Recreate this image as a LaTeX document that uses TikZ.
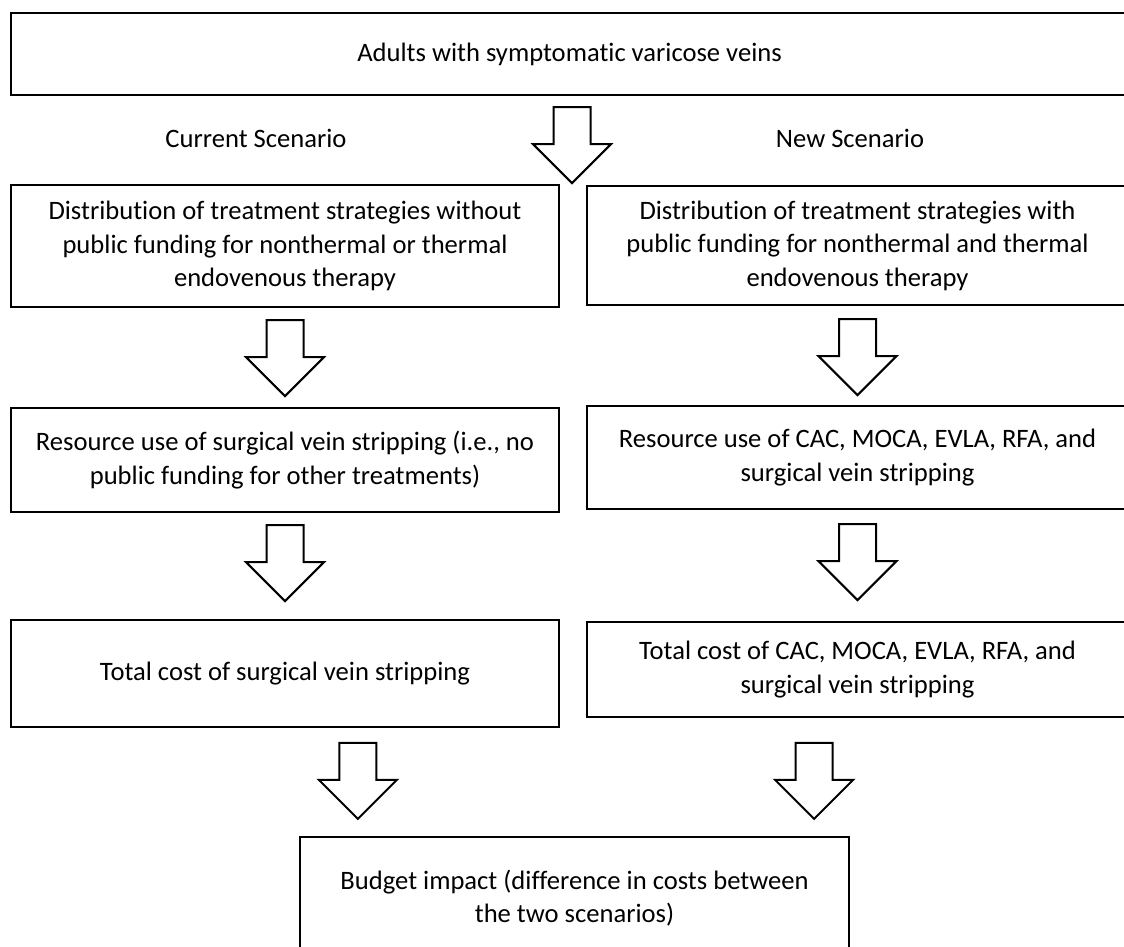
\documentclass[tikz,border=0pt]{standalone}
\usepackage{fontspec}
\setmainfont{Carlito}[Ligatures=NoCommon]
\usetikzlibrary{calc}
\begin{document}
\begin{tikzpicture}[x=1pt,y=-1pt,
  box/.style={draw=black,line width=2.2pt,align=center,inner sep=0pt,
    font=\fontsize{26.6}{33.5}\selectfont,text=black},
  lbl/.style={inner sep=0pt,font=\fontsize{26.6}{33.5}\selectfont,text=black},
  arrowline/.style={draw=black,line width=2pt,fill=white,line join=miter},
  barrow/.pic={\path[arrowline] (-18.5,0) -- (18.5,0) -- (18.5,37) -- (39,37) -- (0,76) -- (-39,37) -- (-18.5,37) -- cycle;}
]
\useasboundingbox (0,0) rectangle (1124,947);
\clip (0,0) rectangle (1124,947);
\fill[white] (0,0) rectangle (1124,947);

\node[box,minimum width=1117,minimum height=82] (top) at (569.5,54) {Adults with symptomatic varicose veins};

\node[lbl] (cur) at (256,138) {Current Scenario};
\node[lbl] (new) at (850,138) {New Scenario};

\node[box,minimum width=548,minimum height=122] (L1) at (285,246)
  {Distribution of treatment strategies without\\public funding for nonthermal or thermal\\endovenous therapy};
\node[box,minimum width=541,minimum height=119] (R1) at (857.5,245.5)
  {Distribution of treatment strategies with\\public funding for nonthermal and thermal\\endovenous therapy};

\node[box,minimum width=548,minimum height=104] (L2) at (285,460)
  {Resource use of surgical vein stripping (i.e., no\\public funding for other treatments)};
\node[box,minimum width=541,minimum height=103] (R2) at (857.5,457.5)
  {Resource use of CAC, MOCA, EVLA, RFA, and\\surgical vein stripping};

\node[box,minimum width=548,minimum height=107] (L3) at (285,673.5)
  {Total cost of surgical vein stripping};
\node[box,minimum width=541,minimum height=95] (R3) at (857.5,669.5)
  {Total cost of CAC, MOCA, EVLA, RFA, and\\surgical vein stripping};

\node[box,minimum width=549,minimum height=122] (B) at (574.5,898)
  {Budget impact (difference in costs between\\the two scenarios)};

% block arrows
\pic at ($(top.south)+(2.5,11)$) {barrow};
\pic at ($(L1.south)+(0,12)$) {barrow};
\pic at ($(R1.south)+(0,13)$) {barrow};
\pic at ($(L2.south)+(0,12)$) {barrow};
\pic at ($(R2.south)+(0,14)$) {barrow};
\pic at ($(B.north west)+(59,-93)$) {barrow};
\pic at ($(B.north east)+(-36,-93)$) {barrow};
\end{tikzpicture}
\end{document}
